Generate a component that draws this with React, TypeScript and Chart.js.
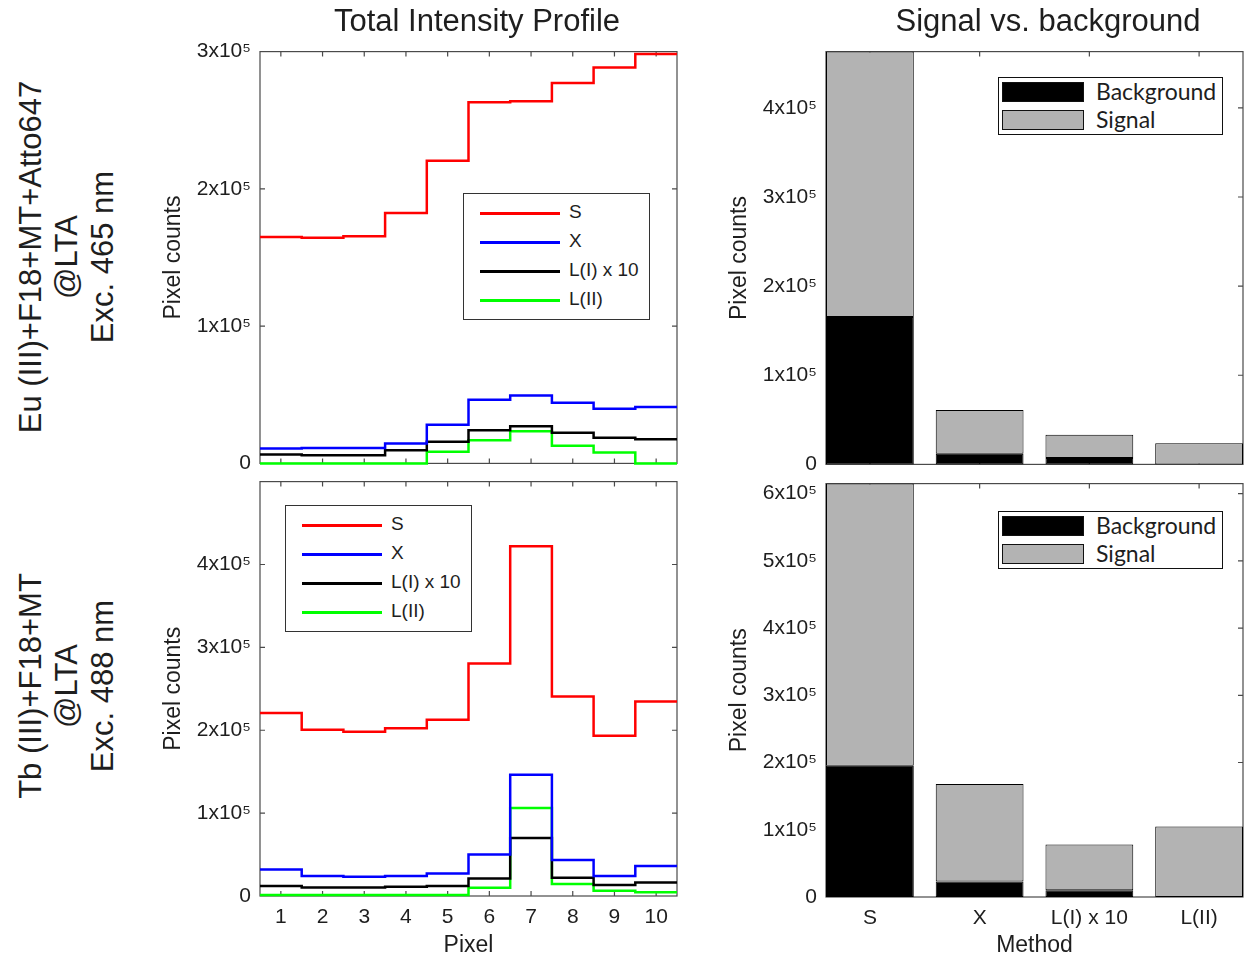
import React, { useEffect, useRef } from 'react';
import { Chart, registerables } from 'chart.js';

Chart.register(...registerables);

const FONT = '"Liberation Sans", Arial, Helvetica, sans-serif';
const LEG_FONT = 'Lato, "Open Sans", sans-serif';
const TXT = '#1e1e1e';

// ---------------- data ----------------
const pixels = [1, 2, 3, 4, 5, 6, 7, 8, 9, 10];
const lineSeriesNames = ['S', 'X', 'L(I) x 10', 'L(II)'];
const lineColors = ['#ff0000', '#0000ff', '#000000', '#00ff00'];

// Eu(III) sample – total intensity profile
const euS = [165000, 164300, 165500, 182400, 220500, 263100, 263900, 277100, 288400, 298300];
const euX = [10800, 11300, 11300, 14500, 28200, 46300, 49400, 44100, 39800, 41000];
const euL1 = [6500, 6000, 6000, 9600, 15700, 24100, 27000, 22400, 18600, 17600];
const euL2 = [0, 0, 0, 0, 8400, 16900, 23400, 12800, 8000, 0];

// Tb(III) sample – total intensity profile
const tbS = [220800, 200700, 198300, 202300, 212700, 280400, 421900, 240800, 193500, 234800];
const tbX = [32100, 24000, 23200, 24000, 27200, 50100, 146200, 43300, 24000, 36100];
const tbL1 = [12000, 10400, 10400, 11200, 12000, 21200, 70100, 22000, 13200, 16400];
const tbL2 = [1200, 1200, 1200, 1200, 1200, 10000, 106200, 14400, 6400, 4400];

// Signal vs background
const methods = ['S', 'X', 'L(I) x 10', 'L(II)'];
const euBackground = [165300, 11900, 7100, 0];
const euSignal = [297800, 49000, 26300, 23800];
const tbBackground = [195100, 23200, 9900, 0];
const tbSignal = [419700, 144700, 68100, 104700];

// tick values
const euLineTicks = [0, 100000, 200000, 300000];
const tbLineTicks = [0, 100000, 200000, 300000, 400000];
const euBarTicks = [0, 100000, 200000, 300000, 400000];
const tbBarTicks = [0, 100000, 200000, 300000, 400000, 500000, 600000];
const euLineMax = 300000;
const tbLineMax = 500000;

// ---------------- helpers ----------------
const fmtSci = (v: number) => (v === 0 ? '0' : `${Math.round(v / 100000)}x10\u2075`);

const framePlugin = {
  id: 'matlabFrame',
  beforeDatasetsDraw(chart: any) {
    const { ctx, chartArea: a, scales } = chart;
    ctx.save();
    ctx.strokeStyle = '#4a4a4a';
    ctx.lineWidth = 1.2;
    ctx.strokeRect(a.left, a.top, a.right - a.left, a.bottom - a.top);
    const L = 5;
    ctx.beginPath();
    for (const t of scales.y.ticks) {
      const py = scales.y.getPixelForValue(t.value);
      if (py <= a.top + 1 || py >= a.bottom - 1) continue;
      ctx.moveTo(a.left, py);
      ctx.lineTo(a.left + L, py);
      ctx.moveTo(a.right, py);
      ctx.lineTo(a.right - L, py);
    }
    for (const t of scales.x.ticks) {
      const px = scales.x.getPixelForValue(t.value);
      if (px <= a.left + 1 || px >= a.right - 1) continue;
      ctx.moveTo(px, a.bottom);
      ctx.lineTo(px, a.bottom - L);
      ctx.moveTo(px, a.top);
      ctx.lineTo(px, a.top + L);
    }
    ctx.stroke();
    ctx.restore();
  },
};

function stepData(vals: number[]) {
  const pts = vals.map((v, i) => ({ x: pixels[i], y: v }));
  return [
    { x: pixels[0] - 0.5, y: vals[0] },
    ...pts,
    { x: pixels[pixels.length - 1] + 0.5, y: vals[vals.length - 1] },
  ];
}

const Y_W = 110;
const PAD_TOP = 20;
const PAD_RIGHT = 10;

function yScale(max: number, tickVals: number[], stacked = false) {
  return {
    stacked,
    min: 0,
    max,
    afterBuildTicks: (s: any) => {
      s.ticks = tickVals.map((v) => ({ value: v }));
    },
    afterFit: (s: any) => {
      s.width = Y_W;
    },
    grid: { display: false, drawTicks: false },
    border: { display: false },
    ticks: {
      padding: 9,
      color: TXT,
      font: { family: FONT, size: 21 },
      callback: (v: any) => fmtSci(Number(v)),
    },
    title: {
      display: true,
      text: 'Pixel counts',
      color: TXT,
      font: { family: FONT, size: 23 },
      padding: { top: 10, bottom: 0 },
    },
  };
}

function xAxisCommon(xh: number, showLabels: boolean, title: string) {
  return {
    offset: false,
    afterFit: (s: any) => {
      s.height = xh;
    },
    grid: { display: false, drawTicks: false, offset: false },
    border: { display: false },
    title: {
      display: showLabels,
      text: title,
      color: TXT,
      font: { family: FONT, size: 23 },
      padding: { top: 0, bottom: 3 },
    },
  };
}

function makeLineConfig(series: number[][], max: number, tickVals: number[], xh: number, showX: boolean) {
  return {
    type: 'line',
    data: {
      datasets: series.map((vals, i) => ({
        label: lineSeriesNames[i],
        data: stepData(vals),
        borderColor: lineColors[i],
        backgroundColor: lineColors[i],
        borderWidth: 2.5,
        pointRadius: 0,
        stepped: 'middle',
        fill: false,
        clip: 4,
      })),
    },
    options: {
      animation: false,
      responsive: false,
      devicePixelRatio: 1,
      layout: { padding: { top: PAD_TOP, right: PAD_RIGHT, left: 0, bottom: 0 } },
      plugins: { legend: { display: false }, tooltip: { enabled: false } },
      scales: {
        x: {
          type: 'linear',
          min: 0.5,
          max: 10.5,
          afterBuildTicks: (s: any) => {
            s.ticks = pixels.map((v) => ({ value: v }));
          },
          ...xAxisCommon(xh, showX, 'Pixel'),
          ticks: {
            display: showX,
            padding: 9,
            color: TXT,
            font: { family: FONT, size: 21 },
            callback: (v: any) => String(v),
          },
        },
        y: yScale(max, tickVals),
      },
    },
    plugins: [framePlugin],
  };
}

function makeBarConfig(bg: number[], sig: number[], tickVals: number[], xh: number, showX: boolean) {
  const max = Math.max(...bg.map((b, i) => b + sig[i]));
  return {
    type: 'bar',
    data: {
      datasets: [
        {
          label: 'Background',
          data: bg.map((v, i) => ({ x: i + 1, y: v })),
          backgroundColor: '#000000',
          borderColor: '#000000',
          borderWidth: 1,
          borderSkipped: false,
        },
        {
          label: 'Signal',
          data: sig.map((v, i) => ({ x: i + 1, y: v })),
          backgroundColor: '#b3b3b3',
          borderColor: '#000000',
          borderWidth: 1,
          borderSkipped: false,
        },
      ],
    },
    options: {
      animation: false,
      responsive: false,
      devicePixelRatio: 1,
      layout: { padding: { top: PAD_TOP, right: PAD_RIGHT, left: 0, bottom: 0 } },
      plugins: { legend: { display: false }, tooltip: { enabled: false } },
      datasets: { bar: { barPercentage: 0.8, categoryPercentage: 1 } },
      scales: {
        x: {
          type: 'linear',
          stacked: true,
          min: 0.6,
          max: 4.4,
          afterBuildTicks: (s: any) => {
            s.ticks = methods.map((_, i) => ({ value: i + 1 }));
          },
          ...xAxisCommon(xh, showX, 'Method'),
          ticks: {
            display: showX,
            padding: 9,
            color: TXT,
            font: { family: FONT, size: 21 },
            callback: (v: any) => methods[Math.round(Number(v)) - 1] ?? '',
          },
        },
        y: yScale(max, tickVals, true),
      },
    },
    plugins: [framePlugin],
  };
}

function ChartCanvas(props: { plotLeft: number; plotTop: number; plotW: number; plotH: number; xh: number; make: () => any }) {
  const ref = useRef<HTMLCanvasElement>(null);
  const { plotLeft, plotTop, plotW, plotH, xh, make } = props;
  const left = plotLeft - Y_W;
  const top = plotTop - PAD_TOP;
  const width = Y_W + plotW + PAD_RIGHT;
  const height = PAD_TOP + plotH + xh;
  useEffect(() => {
    const c = new Chart(ref.current as HTMLCanvasElement, make());
    return () => c.destroy();
  }, []);
  return (
    <canvas
      ref={ref}
      width={width}
      height={height}
      style={{ position: 'absolute', left, top, width, height, display: 'block' }}
    />
  );
}

function LineLegend(props: { left: number; top: number }) {
  const { left, top } = props;
  return (
    <div
      style={{
        position: 'absolute',
        left,
        top,
        width: 187,
        height: 127,
        border: '1px solid #333',
        background: '#fff',
        boxSizing: 'border-box',
      }}
    >
      {lineSeriesNames.map((n, i) => (
        <React.Fragment key={n}>
          <div
            style={{
              position: 'absolute',
              left: 16,
              top: 19 + i * 29 - 1,
              width: 80,
              height: 2.5,
              background: lineColors[i],
            }}
          />
          <div
            style={{
              position: 'absolute',
              left: 105,
              top: 19 + i * 29 - 12,
              height: 24,
              lineHeight: '24px',
              font: `19px ${FONT}`,
              color: TXT,
              whiteSpace: 'nowrap',
            }}
          >
            {n}
          </div>
        </React.Fragment>
      ))}
    </div>
  );
}

const barLegendItems = ['Background', 'Signal'];
const barLegendColors = ['#000000', '#b3b3b3'];

function BarLegend(props: { left: number; top: number }) {
  const { left, top } = props;
  return (
    <div
      style={{
        position: 'absolute',
        left,
        top,
        width: 225,
        height: 58,
        border: '1.5px solid #111',
        background: '#fff',
        boxSizing: 'border-box',
      }}
    >
      {barLegendItems.map((n, i) => (
        <React.Fragment key={n}>
          <div
            style={{
              position: 'absolute',
              left: 3,
              top: 4 + i * 28,
              width: 82,
              height: 20,
              background: barLegendColors[i],
              border: '1px solid #111',
              boxSizing: 'border-box',
            }}
          />
          <div
            style={{
              position: 'absolute',
              left: 97,
              top: 14 + i * 28 - 15,
              height: 30,
              lineHeight: '30px',
              font: `23px ${LEG_FONT}`,
              color: TXT,
              whiteSpace: 'nowrap',
            }}
          >
            {n}
          </div>
        </React.Fragment>
      ))}
    </div>
  );
}

function RowLabel(props: { cx: number; cy: number; lines: string[] }) {
  const { cx, cy, lines } = props;
  return (
    <div
      style={{
        position: 'absolute',
        left: cx,
        top: cy,
        width: 420,
        transform: 'translate(-50%, -50%) rotate(-90deg)',
        textAlign: 'center',
        font: `31px ${FONT}`,
        lineHeight: '36px',
        color: TXT,
        whiteSpace: 'nowrap',
      }}
    >
      {lines.map((l) => (
        <div key={l}>{l}</div>
      ))}
    </div>
  );
}

function Title(props: { cx: number; cy: number; text: string }) {
  const { cx, cy, text } = props;
  return (
    <div
      style={{
        position: 'absolute',
        left: cx,
        top: cy,
        transform: 'translate(-50%, -50%)',
        font: `31px ${FONT}`,
        lineHeight: '36px',
        color: TXT,
        whiteSpace: 'nowrap',
      }}
    >
      {text}
    </div>
  );
}

export default function App() {
  return (
    <div style={{ position: 'absolute', left: 0, top: 0, width: 1246, height: 962, background: '#fff', overflow: 'hidden' }}>
      <ChartCanvas
        plotLeft={260}
        plotTop={50}
        plotW={417}
        plotH={415}
        xh={20}
        make={() => makeLineConfig([euS, euX, euL1, euL2], euLineMax, euLineTicks, 20, false)}
      />
      <ChartCanvas
        plotLeft={260}
        plotTop={480}
        plotW={417}
        plotH={416}
        xh={66}
        make={() => makeLineConfig([tbS, tbX, tbL1, tbL2], tbLineMax, tbLineTicks, 66, true)}
      />
      <ChartCanvas
        plotLeft={826}
        plotTop={50}
        plotW={417}
        plotH={416}
        xh={20}
        make={() => makeBarConfig(euBackground, euSignal, euBarTicks, 20, false)}
      />
      <ChartCanvas
        plotLeft={826}
        plotTop={482}
        plotW={417}
        plotH={415}
        xh={65}
        make={() => makeBarConfig(tbBackground, tbSignal, tbBarTicks, 65, true)}
      />

      <LineLegend left={463} top={193} />
      <LineLegend left={285} top={505} />
      <BarLegend left={998} top={77} />
      <BarLegend left={998} top={511} />

      <Title cx={477} cy={21} text="Total Intensity Profile" />
      <Title cx={1048} cy={21} text="Signal vs. background" />

      <RowLabel cx={67} cy={257} lines={['Eu (III)+F18+MT+Atto647', '@LTA', 'Exc. 465 nm']} />
      <RowLabel cx={67} cy={686} lines={['Tb (III)+F18+MT', '@LTA', 'Exc. 488 nm']} />
    </div>
  );
}
